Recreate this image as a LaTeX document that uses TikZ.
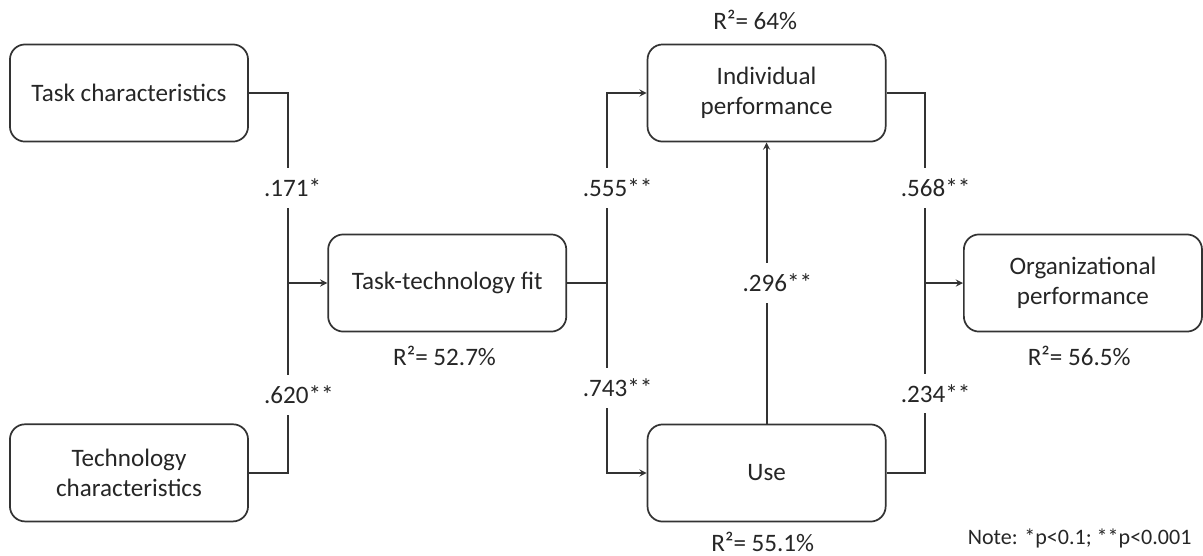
\documentclass[tikz,border=0pt]{standalone}
\usepackage{fontspec}
\setmainfont{Carlito}
\usetikzlibrary{arrows, calc, positioning}
\tikzstyle{factor} = [rectangle, rounded corners=0.4cm, minimum width=6.3cm, minimum height=2.57cm, text centered, align=center, draw=black!80, line width=1.3pt, font=\fontsize{18.9}{22.5}\selectfont, text=black!85]
\tikzstyle{coef} = [fill=white, anchor=west, xshift=-0.73cm, inner xsep=2pt, inner ysep=8pt, font=\fontsize{18.9}{22.5}\selectfont, text=black!85]
\tikzstyle{rsq} = [inner sep=1pt, font=\fontsize{18.9}{22.5}\selectfont, text=black!85]
\tikzstyle{link} = [draw=black!80, line width=1.4pt]
\tikzstyle{arrow} = [draw=black!80, line width=1.4pt, ->, >=stealth]

\begin{document}
\begin{tikzpicture}[node distance=8.42cm]
        \useasboundingbox (0,0) rectangle (31.83,-14.71);
        \node (taskc) [factor] at (3.413,-2.461) {Task characteristics};
        \node (techc) [factor, below of=taskc, yshift=-1.63cm] {Technology\\characteristics};
        \node (ttf) [factor, right of=taskc, yshift=-5.027cm] {Task-technology fit};
        \node (indiv) [factor, right of=ttf, xshift=0.03cm, yshift=5.027cm] {Individual\\performance};
        \node (use) [factor, below of=indiv, yshift=-1.634cm] {Use};
        \node (orgp) [factor, right of=indiv, xshift=-0.05cm, yshift=-5.027cm] {Organizational\\performance};

        % explained variance
        \node (r2ttf) [rsq, below=9pt of ttf, xshift=-0.07cm] {R²= 52.7\%};
        \node (r2indiv) [rsq, above=9pt of indiv, xshift=-0.3cm] {R²= 64\%};
        \node (r2use) [rsq, below=6pt of use, xshift=-0.1cm] {R²= 55.1\%};
        \node (r2orgp) [rsq, below=9pt of orgp, xshift=-0.1cm] {R²= 56.5\%};
        \node (note) [anchor=east, font=\fontsize{16.6}{20}\selectfont, text=black!85] at (31.65,-14.235) {Note: *p<0.1; **p<0.001};

        % junctions
        \coordinate (j1) at ($(taskc.east|-ttf.west)!0.5!(ttf.west)$);
        \coordinate (j2) at ($(ttf.east)!0.5!(indiv.west|-ttf.east)$);
        \coordinate (j3) at ($(indiv.east|-orgp.west)!0.5!(orgp.west)$);

        \draw [link] (taskc.east) -| node [coef, pos=0.75] {.171*} (j1);
        \draw [link] (techc.east) -| node [coef, pos=0.705] {.620**} (j1);
        \draw [arrow] (j1) -- (ttf.west);
        \draw [link] (ttf.east) -- (j2);
        \draw [arrow] (j2) |- node [coef, pos=0.25] {.555**} (indiv.west);
        \draw [arrow] (j2) |- node [coef, pos=0.276] {.743**} (use.west);
        \draw [arrow] (use.north) -- node [coef] {.296**} (indiv.south);
        \draw [link] (indiv.east) -| node [coef, pos=0.75] {.568**} (j3);
        \draw [link] (use.east) -| node [coef, pos=0.71] {.234**} (j3);
        \draw [arrow] (j3) -- (orgp.west);
    \end{tikzpicture}
\end{document}
